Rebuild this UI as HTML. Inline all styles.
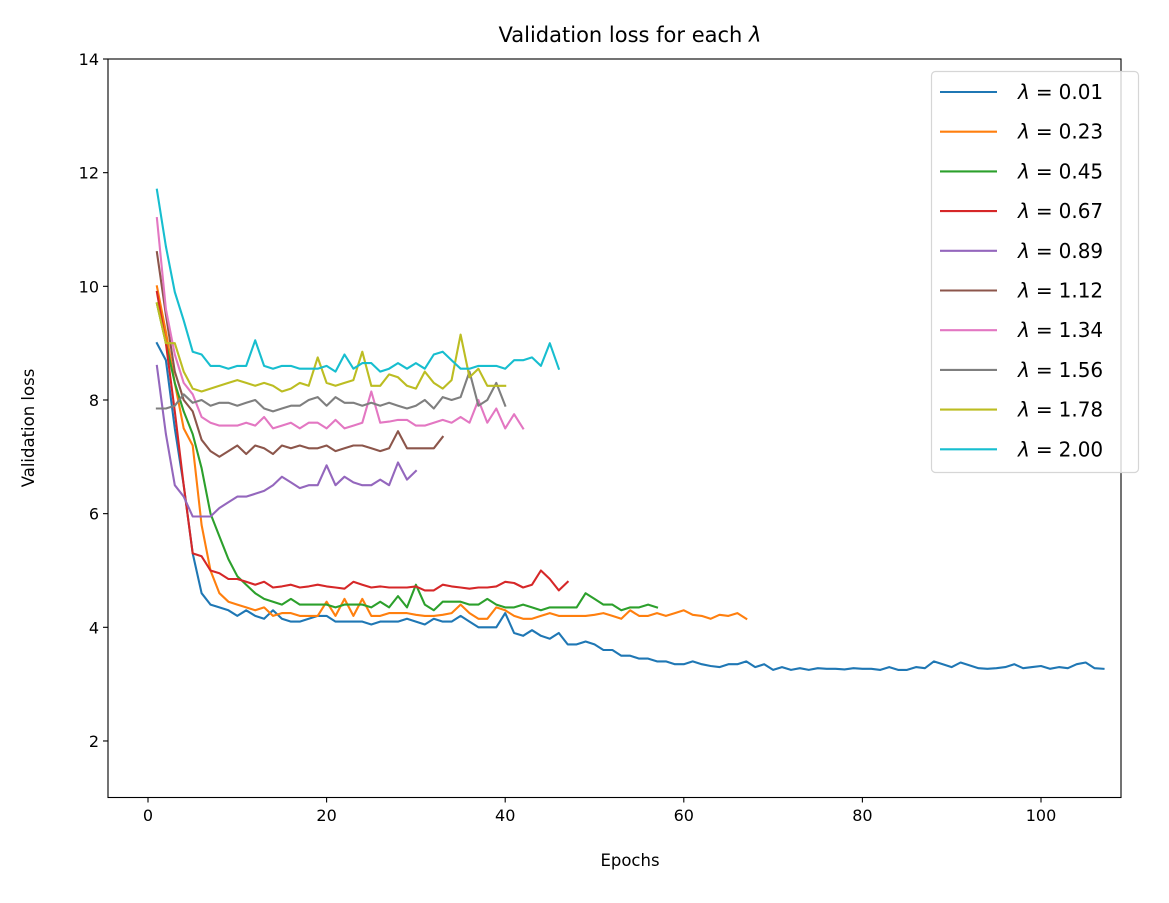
<!DOCTYPE html>
<html><head><meta charset="utf-8"><style>
body{margin:0;background:#fff;}
svg text{font-family:"DejaVu Sans","Liberation Sans",sans-serif;fill:#000;}
</style></head><body>
<svg id="s" width="1169" height="898" xmlns="http://www.w3.org/2000/svg">
<rect width="1169" height="898" fill="#fff"/>
<g id="lines"></g>
<rect x="108" y="59" width="1013" height="738.5" fill="none" stroke="#000" stroke-width="1.1"/>
<g id="ticks"></g>
<text x="630" y="42" font-size="21" text-anchor="middle">Validation loss for each <tspan font-style="italic">λ</tspan></text>
<text x="630" y="866" font-size="16.5" text-anchor="middle">Epochs</text>
<text transform="translate(34,428) rotate(-90)" font-size="16.5" text-anchor="middle">Validation loss</text>
<rect x="931.5" y="71.5" width="207" height="401" rx="4" fill="#fff" fill-opacity="0.8" stroke="#d6d6d6" stroke-width="1.2"/>
<g id="leg"></g>
</svg>
<script>
var px=function(x){return 148+8.93*x}, py=function(y){return 797.8-56.83*(y-1)};
var blueTail=[3.3,3.35,3.25,3.3,3.25,3.28,3.25,3.28,3.27,3.27,3.26,3.28,3.27,3.27,3.25,3.3,3.25,3.25,3.3,3.28,3.4,3.35,3.3,3.38,3.33,3.28,3.27,3.28,3.3,3.35,3.28,3.3,3.32,3.27,3.3,3.28,3.35,3.38,3.28,3.27];
var D=[
["#1f77b4",[9.0,8.7,7.5,6.5,5.3,4.6,4.4,4.35,4.3,4.2,4.3,4.2,4.15,4.3,4.15,4.1,4.1,4.15,4.2,4.2,4.1,4.1,4.1,4.1,4.05,4.1,4.1,4.1,4.15,4.1,4.05,4.15,4.1,4.1,4.2,4.1,4.0,4.0,4.0,4.25,3.9,3.85,3.95,3.85,3.8,3.9,3.7,3.7,3.75,3.7,3.6,3.6,3.5,3.5,3.45,3.45,3.4,3.4,3.35,3.35,3.4,3.35,3.32,3.3,3.35,3.35,3.4].concat(blueTail)],
["#ff7f0e",[10.0,9.2,8.3,7.5,7.2,5.8,5.0,4.6,4.45,4.4,4.35,4.3,4.35,4.2,4.25,4.25,4.2,4.2,4.2,4.45,4.2,4.5,4.2,4.5,4.2,4.2,4.25,4.25,4.25,4.22,4.2,4.2,4.22,4.25,4.4,4.25,4.15,4.15,4.35,4.3,4.2,4.15,4.15,4.2,4.25,4.2,4.2,4.2,4.2,4.22,4.25,4.2,4.15,4.3,4.2,4.2,4.25,4.2,4.25,4.3,4.22,4.2,4.15,4.22,4.2,4.25,4.15]],
["#2ca02c",[9.7,9.0,8.3,7.8,7.4,6.8,6.0,5.6,5.2,4.9,4.75,4.6,4.5,4.45,4.4,4.5,4.4,4.4,4.4,4.4,4.35,4.4,4.4,4.4,4.35,4.45,4.35,4.55,4.35,4.75,4.4,4.3,4.45,4.45,4.45,4.4,4.4,4.5,4.4,4.35,4.35,4.4,4.35,4.3,4.35,4.35,4.35,4.35,4.6,4.5,4.4,4.4,4.3,4.35,4.35,4.4,4.35]],
["#d62728",[9.9,9.0,7.8,6.5,5.3,5.25,5.0,4.95,4.85,4.85,4.8,4.75,4.8,4.7,4.72,4.75,4.7,4.72,4.75,4.72,4.7,4.68,4.8,4.75,4.7,4.72,4.7,4.7,4.7,4.72,4.65,4.65,4.75,4.72,4.7,4.68,4.7,4.7,4.72,4.8,4.78,4.7,4.75,5.0,4.85,4.65,4.8]],
["#9467bd",[8.6,7.4,6.5,6.3,5.95,5.95,5.95,6.1,6.2,6.3,6.3,6.35,6.4,6.5,6.65,6.55,6.45,6.5,6.5,6.85,6.5,6.65,6.55,6.5,6.5,6.6,6.5,6.9,6.6,6.75]],
["#8c564b",[10.6,9.5,8.5,8.0,7.8,7.3,7.1,7.0,7.1,7.2,7.05,7.2,7.15,7.05,7.2,7.15,7.2,7.15,7.15,7.2,7.1,7.15,7.2,7.2,7.15,7.1,7.15,7.45,7.15,7.15,7.15,7.15,7.35]],
["#e377c2",[11.2,9.6,8.8,8.3,8.1,7.7,7.6,7.55,7.55,7.55,7.6,7.55,7.7,7.5,7.55,7.6,7.5,7.6,7.6,7.5,7.65,7.5,7.55,7.6,8.15,7.6,7.62,7.65,7.65,7.55,7.55,7.6,7.65,7.6,7.7,7.6,8.0,7.6,7.85,7.5,7.75,7.5]],
["#7f7f7f",[7.85,7.85,7.9,8.1,7.95,8.0,7.9,7.95,7.95,7.9,7.95,8.0,7.85,7.8,7.85,7.9,7.9,8.0,8.05,7.9,8.05,7.95,7.95,7.9,7.95,7.9,7.95,7.9,7.85,7.9,8.0,7.85,8.05,8.0,8.05,8.5,7.9,8.0,8.3,7.9]],
["#bcbd22",[9.7,9.0,9.0,8.5,8.2,8.15,8.2,8.25,8.3,8.35,8.3,8.25,8.3,8.25,8.15,8.2,8.3,8.25,8.75,8.3,8.25,8.3,8.35,8.85,8.25,8.25,8.45,8.4,8.25,8.2,8.5,8.3,8.2,8.35,9.15,8.4,8.55,8.25,8.25,8.25]],
["#17becf",[11.7,10.7,9.9,9.4,8.85,8.8,8.6,8.6,8.55,8.6,8.6,9.05,8.6,8.55,8.6,8.6,8.55,8.55,8.55,8.6,8.5,8.8,8.55,8.65,8.65,8.5,8.55,8.65,8.55,8.65,8.55,8.8,8.85,8.7,8.55,8.55,8.6,8.6,8.6,8.55,8.7,8.7,8.75,8.6,9.0,8.55]]
];
var L=["0.01","0.23","0.45","0.67","0.89","1.12","1.34","1.56","1.78","2.00"];
var h='';
D.forEach(function(d){var p=d[1].map(function(v,i){return px(i+1).toFixed(1)+','+py(v).toFixed(1)}).join(' ');
h+='<polyline points="'+p+'" fill="none" stroke="'+d[0]+'" stroke-width="2.1" stroke-linejoin="round" stroke-linecap="square"/>';});
document.getElementById('lines').innerHTML=h;
var t='';
[2,4,6,8,10,12,14].forEach(function(v){var y=py(v);t+='<line x1="103" x2="108" y1="'+y+'" y2="'+y+'" stroke="#000" stroke-width="1.1"/><text x="99" y="'+(y+6)+'" font-size="16" text-anchor="end">'+v+'</text>';});
[0,20,40,60,80,100].forEach(function(v){var x=px(v);t+='<line x1="'+x+'" x2="'+x+'" y1="797.5" y2="802.5" stroke="#000" stroke-width="1.1"/><text x="'+x+'" y="821" font-size="16" text-anchor="middle">'+v+'</text>';});
document.getElementById('ticks').innerHTML=t;
var g='';
L.forEach(function(l,i){var y=92+i*39.7;g+='<line x1="940" x2="997" y1="'+y+'" y2="'+y+'" stroke="'+D[i][0]+'" stroke-width="2.1"/><text x="1018" y="'+(y+7)+'" font-size="20"><tspan font-style="italic">λ</tspan><tspan dx="6">=</tspan><tspan dx="6">'+l+'</tspan></text>';});
document.getElementById('leg').innerHTML=g;
</script>
</body></html>
